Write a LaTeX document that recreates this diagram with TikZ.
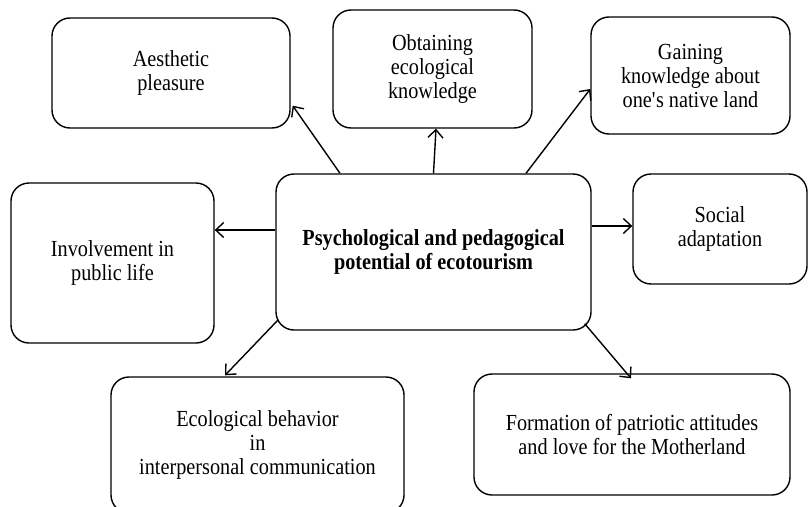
\documentclass[tikz,border=0pt]{standalone}
\usepackage{fontspec}
\setmainfont[FakeStretch=0.88]{Liberation Serif}
\usetikzlibrary{arrows.meta}
\begin{document}
\begin{tikzpicture}[x=1pt,y=-1pt,
  box/.style={draw, line width=1.4pt, rounded corners=18pt, inner sep=0pt, align=center,
    font=\fontsize{23}{24}\selectfont},
  arr/.style={line width=1.4pt, -{Straight Barb[length=8pt,width=15pt,line width=1.4pt]}}]
\useasboundingbox[fill=white] (0,0) rectangle (808,506);
\clip (0,0) rectangle (808,506);
\node[box, minimum width=315pt, minimum height=156pt, font=\fontsize{23}{24.5}\selectfont\bfseries]
  (c) at (433.5,252) {Psychological and pedagogical\\potential of ecotourism};
\node[box, minimum width=238pt, minimum height=110pt] (aes) at (171,73) {Aesthetic\\pleasure};
\node[box, minimum width=199pt, minimum height=118pt] (obt) at (432.5,69) {Obtaining\\ecological\\knowledge};
\node[box, minimum width=199pt, minimum height=117pt] (gain) at (690.5,75.5) {Gaining\\knowledge about\\one\textquotesingle s native land};
\node[box, minimum width=203pt, minimum height=160pt] (inv) at (112.5,263) {Involvement in\\public life};
\node[box, minimum width=174pt, minimum height=110pt] (soc) at (720,229) {Social\\adaptation};
\node[box, minimum width=293pt, minimum height=136pt] (eco) at (257.5,445) {Ecological behavior\\in\\interpersonal communication};
\node[box, minimum width=316pt, minimum height=121pt] (form) at (632,434.5) {Formation of patriotic attitudes\\and love for the Motherland};
\draw[arr] ([xshift=-93.5pt]c.north) -- ([yshift=23pt,xshift=2pt]aes.south east);
\draw[arr] (c.north) -- ([xshift=3.5pt]obt.south);
\draw[arr] ([xshift=92.5pt]c.north) -- ([yshift=-13.5pt]gain.west);
\draw[arr] ([yshift=22pt]c.west) -- ([yshift=22pt]c.west -| inv.east);
\draw[arr] ([yshift=26pt]c.east) -- ([yshift=26pt]c.east -| soc.west);
\draw[arr] ([xshift=3pt,yshift=11pt]c.south west) -- ([xshift=-32.5pt,yshift=1pt]eco.north);
\draw[arr] ([xshift=-7pt,yshift=7pt]c.south east) -- ([xshift=-1pt,yshift=-5pt]form.north);
\end{tikzpicture}
\end{document}
